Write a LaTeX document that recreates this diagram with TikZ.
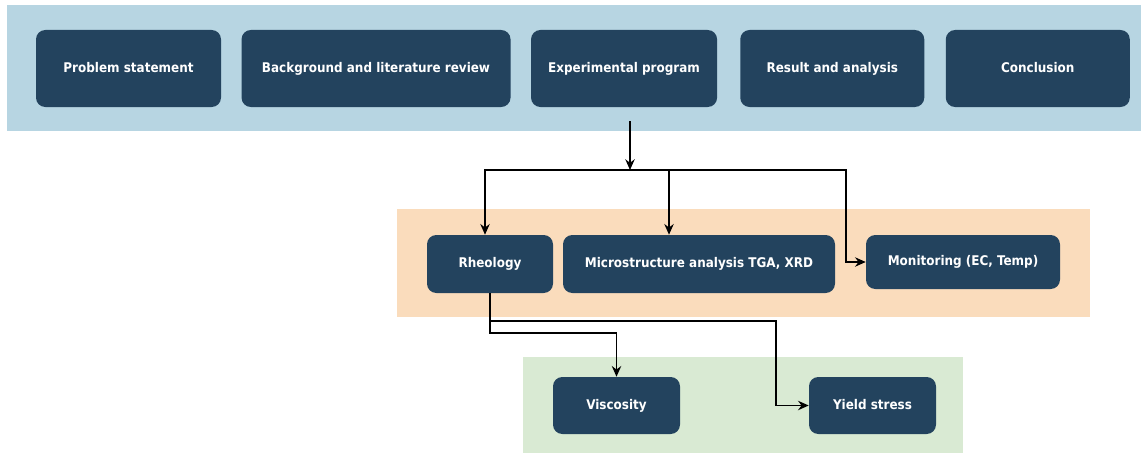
\documentclass[tikz,border=0pt]{standalone}
\usepackage{fontspec}
\setmainfont{DejaVu Sans Condensed}
\usepackage{tikz}
\usetikzlibrary{positioning, calc, arrows.meta}

\definecolor{navy}{RGB}{35,67,94}
\definecolor{bandblue}{RGB}{183,213,226}
\definecolor{bandorange}{RGB}{250,220,188}
\definecolor{bandgreen}{RGB}{217,234,211}

\begin{document}
\begin{tikzpicture}[x=0.75pt, y=-0.75pt, node distance=15pt]
        \tikzstyle{stage}=[fill=navy, rectangle, rounded corners=7pt, text=white, font=\bfseries\fontsize{10}{12}\selectfont, inner sep=0pt, text height=7.5pt, text depth=2pt];
        \tikzstyle{link}=[draw=black, line width=1.35pt, -{Stealth[length=8pt, width=7pt]}];
        \useasboundingbox (0,0) rectangle (1145,453);

        % coloured bands
        \fill[bandblue] (7,5) rectangle (1141,131);
        \fill[bandorange] (397,209) rectangle (1090,317);
        \fill[bandgreen] (523,357) rectangle (963,453);

        % thesis outline
        \node[stage, minimum width=138.75pt, minimum height=57.75pt] (prob) at (128.5,68.5) {Problem statement};
        \node[stage, right=of prob, minimum width=201.75pt, minimum height=57.75pt] (lit) {Background and literature review};
        \node[stage, right=of lit, minimum width=139.5pt, minimum height=57.75pt] (exp) {Experimental program};
        \node[stage, right=17pt of exp, minimum width=138pt, minimum height=57.75pt] (res) {Result and analysis};
        \node[stage, right=15.75pt of res, minimum width=138pt, minimum height=57.75pt] (concl) {Conclusion};

        % experimental work
        \node[stage, minimum width=94.5pt, minimum height=43.5pt] (rheo) at (490,264) {Rheology};
        \node[stage, minimum width=204pt, minimum height=43.5pt] (micro) at (699,264) {Microstructure analysis TGA, XRD};
        \node[stage, minimum width=145.5pt, minimum height=40.5pt] (mon) at (963,262) {Monitoring (EC, Temp)};

        % rheology outputs
        \node[stage, minimum width=95.25pt, minimum height=42.75pt] (visc) at (616.5,405.5) {Viscosity};
        \node[stage, minimum width=95.25pt, minimum height=42.75pt] (ys) at (872.5,405.5) {Yield stress};

        \coordinate (start) at (630,121);
        \coordinate (split) at (630,170);

        \draw[link] (start) -- (split);
        \draw[link] (split) -| ([xshift=-3.75pt]rheo.north);
        \draw[link] (split) -| ([xshift=-22.5pt]micro.north);
        \draw[link] (split) -| ([xshift=-15pt]mon.west) -- (mon.west);
        \draw[link] (rheo.south) -- ++(0,40) -| (visc.north);
        \draw[link] (rheo.south) -- ++(0,28) -| ([xshift=-24.75pt]ys.west) -- (ys.west);
      \end{tikzpicture}
\end{document}
